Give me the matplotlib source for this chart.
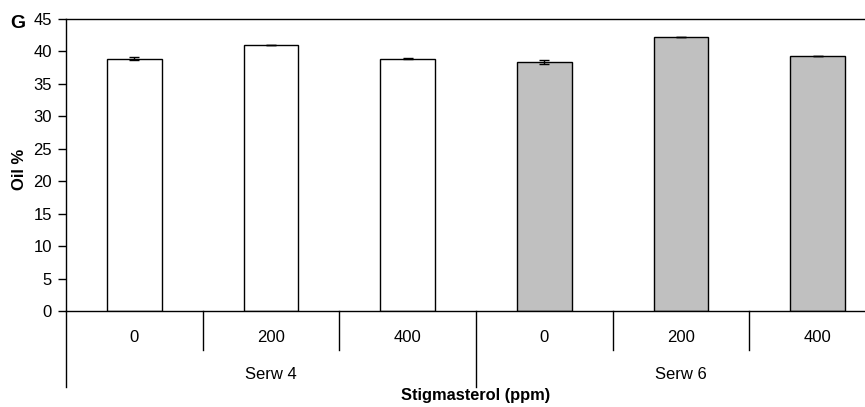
import matplotlib.pyplot as plt

plt.rcParams['font.family'] = ['Liberation Sans', 'DejaVu Sans']

# === data ===
doses = ["0", "200", "400", "0", "200", "400"]
groups = ["Serw 4", "Serw 6"]
oil = [38.9, 41.0, 38.9, 38.4, 42.2, 39.3]
err = [0.25, 0.05, 0.05, 0.35, 0.05, 0.05]
colors = ["white", "white", "white", "#c0c0c0", "#c0c0c0", "#c0c0c0"]

fig = plt.figure(figsize=(8.65, 4.07), dpi=100)
# axes runs a little past the right edge, as in the source image
ax = fig.add_axes([66 / 865, 96 / 407, 820 / 865, 292 / 407])

x = list(range(len(oil)))
ax.bar(x, oil, width=0.4, color=colors, edgecolor="black", linewidth=1.0,
       yerr=err, capsize=3.5, error_kw=dict(ecolor="black", elinewidth=1.0, capthick=1.0))

ax.set_xlim(-0.5, len(oil) - 0.5)
ax.set_ylim(0, 45)
ax.set_yticks(range(0, 46, 5))
ax.tick_params(axis="y", direction="out", length=6, width=1.0, labelsize=12, pad=4)
ax.set_xticks([])
for s in ax.spines.values():
    s.set_linewidth(1.0)

trans = ax.get_xaxis_transform()
# category separators and labels
for i, d in enumerate(doses):
    ax.text(i, -0.092, d, transform=trans, ha="center", va="center", fontsize=12)
for i in [1, 2, 4, 5]:
    ax.plot([i - 0.5, i - 0.5], [0, -0.134], transform=trans, color="black",
            lw=1.0, clip_on=False)
for i in [0, 3]:
    ax.plot([i - 0.5, i - 0.5], [0, -0.26], transform=trans, color="black",
            lw=1.0, clip_on=False)
for g, name in enumerate(groups):
    ax.text(g * 3 + 1, -0.219, name, transform=trans, ha="center", va="center",
            fontsize=12)

ax.text(2.5, -0.288, "Stigmasterol (ppm)", transform=trans, ha="center",
        va="center", fontsize=11.8, fontweight="bold")
fig.text(19 / 865, 1 - 169 / 407, "Oil %", rotation=90, ha="center", va="center",
         fontsize=12, fontweight="bold")
fig.text(18 / 865, 1 - 24 / 407, "G", ha="center", va="center",
         fontsize=14, fontweight="bold")

fig.savefig("out.png", dpi=100)
